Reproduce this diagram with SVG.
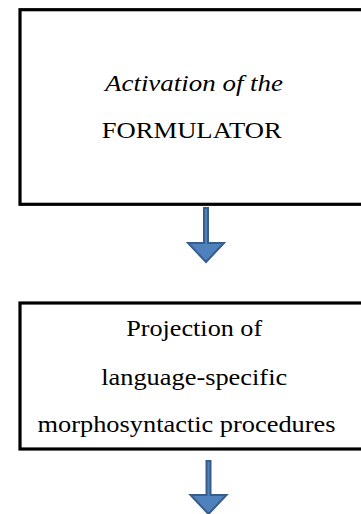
<svg xmlns="http://www.w3.org/2000/svg" width="361" height="514" viewBox="0 0 361 514">
<style>
.box{fill:#fff;stroke:#000;stroke-width:3.2}
.t{font-family:'Liberation Serif','Times New Roman',serif;font-size:24px;fill:#000;text-anchor:middle}
.it{font-style:italic}
.arr{fill:#4F81BD;stroke:#385D8A;stroke-width:2;stroke-linejoin:miter}
</style>
<rect width="361" height="514" fill="#fff"/>
<g id="node-formulator">
<rect class="box" x="20" y="9.7" width="360" height="194.6"/>
<text class="t it" x="194" y="91" textLength="178" lengthAdjust="spacingAndGlyphs">Activation of the</text>
<text class="t" x="191.7" y="138" textLength="180" lengthAdjust="spacingAndGlyphs">FORMULATOR</text>
</g>
<g id="node-projection">
<rect class="box" x="20" y="303" width="360" height="146"/>
<text class="t" x="194.2" y="336.3" textLength="136" lengthAdjust="spacingAndGlyphs">Projection of</text>
<text class="t" x="194.2" y="385" textLength="186" lengthAdjust="spacingAndGlyphs">language-specific</text>
<text class="t" x="186.5" y="431.7" textLength="298" lengthAdjust="spacingAndGlyphs">morphosyntactic procedures</text>
</g>
<g id="connectors">
<polygon class="arr" points="204,208 208,208 208,243 224,243 206,262 188,243 204,243"/>
<polygon class="arr" points="206.5,461 210.5,461 210.5,495 226.5,495 208.5,514 190.5,495 206.5,495"/>
</g>
</svg>
